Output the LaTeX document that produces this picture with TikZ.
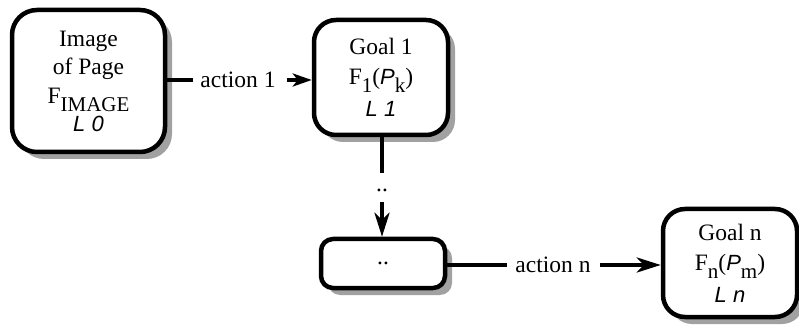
\documentclass[tikz,border=0pt]{standalone}
\usepackage{fontspec}
\setmainfont{Liberation Serif}
\newfontfamily\lblfont{Liberation Sans}
\usetikzlibrary{arrows.meta,shadows}

% lowered subscript in roman type
\newcommand{\lowsub}[1]{\raisebox{-8pt}{\fontsize{21}{21}\selectfont #1}}
% italic sans for level labels and page symbols
\newcommand{\lvl}[1]{{\lblfont\itshape\fontsize{22}{22}\selectfont #1}}

\tikzset{
  goalbox/.style={draw, line width=4.5pt, rounded corners=22pt, fill=white,
    align=center, inner sep=0pt,
    drop shadow={shadow xshift=7pt, shadow yshift=-7pt, fill=black!37, opacity=1}},
  flow/.style={line width=4pt},
  flowarrow/.style={line width=4pt, -{Stealth[length=24pt, width=15pt, inset=7pt]}},
  smallarrow/.style={line width=4pt, -{Stealth[length=19pt, width=13pt, inset=5pt]}},
  lbl/.style={inner sep=0pt}
}

\begin{document}
\begin{tikzpicture}[x=1pt, y=-1pt, font=\fontsize{23.5}{28}\selectfont]
\useasboundingbox (0,0) rectangle (799,328);

\node[goalbox, rounded corners=25pt, minimum width=153pt, minimum height=142pt] (img) at (88.5,81)
  {Image\\of Page\\[1pt]F\lowsub{IMAGE}\\[0pt]\lvl{L 0}};
\node[goalbox, minimum width=134pt, minimum height=115pt] (g1) at (381,77.5)
  {Goal 1\\[2pt]F\lowsub{1}(\lvl{P}\lowsub{k})\\[4pt]\lvl{L 1}};
\node[goalbox, rounded corners=12pt, minimum width=124pt, minimum height=49pt] (mid) at (383,263.5)
  {..};
\node[goalbox, minimum width=134pt, minimum height=108pt] (gn) at (730,263)
  {Goal n\\[2pt]F\lowsub{n}(\lvl{P}\lowsub{m})\\[4pt]\lvl{L n}};

% connector labels
\node[lbl] (a1) at (238,80) {action 1};
\node[lbl] (dots) at (382,190) {..};
\node[lbl] (an) at (553,265) {action n};

\coordinate (a1in) at (193,80);
\coordinate (a1out) at (287,80);
\coordinate (dtop) at (382,173);
\coordinate (dbot) at (382,202);
\coordinate (anin) at (507,265);
\coordinate (anout) at (600,265);

\draw[flow] (img.east |- a1in) -- (a1in);
\draw[smallarrow] (a1out) -- (g1.west |- a1out);
\draw[flow] (g1.south -| dtop) -- (dtop);
\draw[flowarrow] (dbot) -- (mid.north -| dbot);
\draw[flow] (mid.east |- anin) -- (anin);
\draw[flowarrow] (anout) -- (gn.west |- anout);
\end{tikzpicture}
\end{document}
